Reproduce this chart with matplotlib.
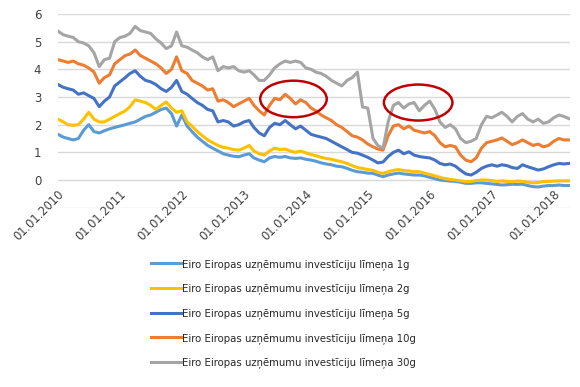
import matplotlib
matplotlib.use("Agg")
import matplotlib.pyplot as plt
import matplotlib.transforms as mtransforms
from matplotlib.patches import Ellipse
import matplotlib.dates as mdates
import pandas as pd
import numpy as np

plt.rcParams['font.family'] = ['DejaVu Sans']

# monthly observations Jan 2010 .. Apr 2018
dates = pd.date_range("2010-01-01", periods=100, freq="MS")

y1 = [1.65, 1.55, 1.5, 1.45, 1.5, 1.8, 2.0, 1.75, 1.7, 1.78,
      1.85, 1.9, 1.95, 2.0, 2.05, 2.1, 2.2, 2.3, 2.35, 2.45,
      2.55, 2.6, 2.4, 1.95, 2.35, 1.95, 1.75, 1.55, 1.4, 1.25,
      1.15, 1.05, 0.95, 0.9, 0.86, 0.84, 0.9, 0.95, 0.8, 0.72,
      0.66, 0.8, 0.85, 0.82, 0.85, 0.8, 0.78, 0.8, 0.75, 0.72,
      0.68, 0.62, 0.58, 0.55, 0.5, 0.48, 0.42, 0.35, 0.3, 0.28,
      0.25, 0.24, 0.18, 0.12, 0.18, 0.22, 0.25, 0.22, 0.2, 0.18,
      0.18, 0.15, 0.1, 0.05, 0.0, -0.02, -0.04, -0.05, -0.08, -0.12,
      -0.12, -0.1, -0.1, -0.12, -0.14, -0.16, -0.18, -0.17, -0.15, -0.16,
      -0.15, -0.2, -0.24, -0.25, -0.22, -0.2, -0.2, -0.18, -0.2, -0.2]

y2 = [2.2, 2.1, 2.0, 1.98, 2.0, 2.2, 2.45, 2.2, 2.1, 2.1,
      2.2, 2.3, 2.4, 2.5, 2.65, 2.9, 2.85, 2.8, 2.7, 2.55,
      2.7, 2.82, 2.6, 2.45, 2.5, 2.1, 1.95, 1.75, 1.6, 1.45,
      1.35, 1.25, 1.18, 1.15, 1.1, 1.08, 1.15, 1.25, 1.05, 0.95,
      0.9, 1.05, 1.15, 1.1, 1.12, 1.05, 1.0, 1.05, 0.98, 0.92,
      0.88, 0.82, 0.78, 0.75, 0.7, 0.66, 0.6, 0.52, 0.45, 0.42,
      0.38, 0.35, 0.28, 0.24, 0.3, 0.35, 0.38, 0.34, 0.33, 0.3,
      0.3, 0.25, 0.2, 0.15, 0.1, 0.05, 0.02, 0.0, -0.03, -0.06,
      -0.05, -0.02, 0.0, 0.0, -0.02, -0.05, -0.03, -0.05, -0.06, -0.04,
      -0.05, -0.08, -0.1, -0.09, -0.06, -0.05, -0.04, -0.03, -0.03, -0.03]

y5 = [3.45, 3.35, 3.3, 3.25, 3.1, 3.15, 3.05, 2.95, 2.65, 2.85,
      3.0, 3.4, 3.55, 3.7, 3.85, 3.95, 3.75, 3.6, 3.55, 3.45,
      3.3, 3.2, 3.35, 3.6, 3.2, 3.1, 2.95, 2.8, 2.7, 2.55,
      2.5, 2.1, 2.15, 2.1, 1.95, 2.0, 2.1, 2.15, 1.9, 1.7,
      1.6, 1.9, 2.05, 2.0, 2.15, 2.0, 1.85, 1.95, 1.8, 1.65,
      1.6, 1.55, 1.5, 1.4, 1.3, 1.2, 1.1, 1.0, 0.97, 0.9,
      0.82, 0.72, 0.62, 0.65, 0.85, 1.0, 1.08, 0.95, 1.02, 0.9,
      0.85, 0.82, 0.8, 0.72, 0.6, 0.55, 0.58, 0.5, 0.35, 0.22,
      0.18, 0.28, 0.42, 0.5, 0.55, 0.5, 0.55, 0.52, 0.45, 0.42,
      0.55, 0.48, 0.42, 0.36, 0.4, 0.48, 0.55, 0.6, 0.58, 0.6]

y10 = [4.35, 4.3, 4.25, 4.3, 4.2, 4.15, 4.05, 3.9, 3.5, 3.7,
       3.8, 4.2, 4.35, 4.5, 4.55, 4.7, 4.5, 4.4, 4.3, 4.2,
       4.05, 3.85, 4.0, 4.45, 3.95, 3.85, 3.6, 3.5, 3.4, 3.25,
       3.3, 2.85, 2.9, 2.8, 2.65, 2.75, 2.85, 2.95, 2.7, 2.5,
       2.35, 2.7, 2.95, 2.9, 3.1, 2.95, 2.75, 2.9, 2.8, 2.6,
       2.5, 2.35, 2.25, 2.15, 2.0, 1.9, 1.75, 1.6, 1.55, 1.45,
       1.3, 1.2, 1.12, 1.08, 1.6, 1.95, 2.0, 1.85, 1.95, 1.8,
       1.75, 1.7, 1.75, 1.6, 1.35, 1.2, 1.25, 1.2, 0.9, 0.72,
       0.66, 0.8, 1.15, 1.35, 1.4, 1.45, 1.52, 1.4, 1.28, 1.35,
       1.45, 1.35, 1.25, 1.3, 1.2, 1.25, 1.4, 1.5, 1.45, 1.45]

y30 = [5.38, 5.25, 5.2, 5.15, 5.0, 4.95, 4.85, 4.6, 4.1, 4.35,
       4.4, 5.0, 5.15, 5.2, 5.3, 5.55, 5.4, 5.35, 5.3, 5.1,
       4.95, 4.75, 4.85, 5.35, 4.85, 4.8, 4.7, 4.6, 4.45, 4.35,
       4.45, 3.95, 4.1, 4.05, 4.1, 3.95, 3.9, 3.95, 3.8, 3.6,
       3.6, 3.8, 4.05, 4.2, 4.3, 4.25, 4.3, 4.25, 4.05, 4.0,
       3.9, 3.85, 3.75, 3.6, 3.5, 3.4, 3.6, 3.7, 3.9, 2.64,
       2.6, 1.5, 1.25, 1.15, 2.1, 2.7, 2.8, 2.6, 2.75, 2.8,
       2.5, 2.7, 2.85, 2.55, 2.1, 1.9, 2.0, 1.85, 1.5, 1.35,
       1.4, 1.5, 2.0, 2.3, 2.25, 2.35, 2.45, 2.3, 2.1, 2.3,
       2.4, 2.2, 2.1, 2.2, 2.05, 2.1, 2.25, 2.35, 2.3, 2.22]

labels = ["Eiro Eiropas uzņēmumu investīciju līmeņa 1g",
          "Eiro Eiropas uzņēmumu investīciju līmeņa 2g",
          "Eiro Eiropas uzņēmumu investīciju līmeņa 5g",
          "Eiro Eiropas uzņēmumu investīciju līmeņa 10g",
          "Eiro Eiropas uzņēmumu investīciju līmeņa 30g"]
colors = ["#5B9BD5", "#FFC000", "#4472C4", "#ED7D31", "#A5A5A5"]
series = [y1, y2, y5, y10, y30]

year_ticks = pd.date_range("2010-01-01", "2018-01-01", freq="YS")
y_ticks = [-1, 0, 1, 2, 3, 4, 5, 6]

# highlighted regions (center date, center value, width days, height)
ell_centers = [(pd.Timestamp("2013-10-20"), 2.93), (pd.Timestamp("2015-10-25"), 2.8)]
ell_sizes = [(392, 1.32), (404, 1.3)]

W, H = 580, 387
fig = plt.figure(figsize=(W / 100, H / 100), dpi=100)
ax = fig.add_axes([58 / W, 1 - 207.7 / H, (570 - 58) / W, (207.7 - 14) / H])

for y, c, lab in zip(series, colors, labels):
    ax.plot(dates, y, color=c, lw=2.2, label=lab, solid_joinstyle='round')

ax.set_ylim(-1, 6)
ax.set_xlim(pd.Timestamp("2010-01-01"), pd.Timestamp("2018-04-07"))
ax.set_yticks(y_ticks)
ax.set_yticklabels(["" if v < 0 else str(v) for v in y_ticks])
ax.grid(axis='y', color='#D9D9D9', lw=1)
ax.set_axisbelow(True)
for s in ax.spines.values():
    s.set_visible(False)
ax.tick_params(axis='y', length=0, pad=12, labelsize=8.5, labelcolor='#404040')
ax.set_xticks([])

# x labels hang from the zero line
for d in year_ticks:
    off = mtransforms.ScaledTranslation(4 / 100, -12 / 100, fig.dpi_scale_trans)
    tr = ax.transData + off
    ax.text(mdates.date2num(d), 0, d.strftime("%d.%m.%Y"), transform=tr,
            rotation=45, rotation_mode='anchor', ha='right', va='center',
            fontsize=8.3, color='#404040')

for (cx, cy), (w, h) in zip(ell_centers, ell_sizes):
    e = Ellipse((mdates.date2num(cx), cy), w, h, fill=False,
                edgecolor='#C00000', lw=1.8, zorder=5)
    ax.add_patch(e)

leg = fig.legend(loc='upper left', bbox_to_anchor=(151 / W, 1 - 259 / H),
                 frameon=False, fontsize=7.3, handlelength=3.0, handletextpad=0.1,
                 labelspacing=1.36, borderpad=0, borderaxespad=0)
for t in leg.get_texts():
    t.set_color('#262626')

fig.savefig("out.png", dpi=100)
